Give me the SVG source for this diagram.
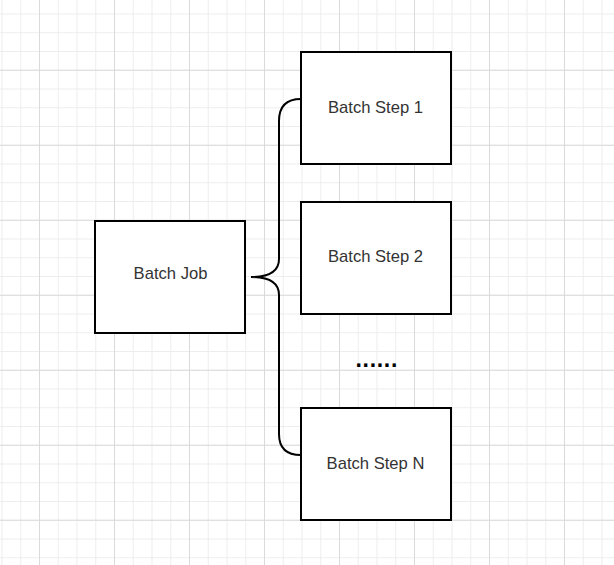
<svg xmlns="http://www.w3.org/2000/svg" width="614" height="565" viewBox="0 0 614 565">
  <defs>
    <pattern id="minor" patternUnits="userSpaceOnUse" x="-7.375" y="4.625" width="18.75" height="18.75">
      <path d="M9.375,0 V18.75 M0,9.375 H18.75" stroke="#ededed" stroke-width="1" fill="none"/>
    </pattern>
    <pattern id="major" patternUnits="userSpaceOnUse" x="2" y="32.75" width="75" height="75">
      <path d="M37.5,0 V75 M0,37.5 H75" stroke="#dadada" stroke-width="1" fill="none"/>
    </pattern>
  </defs>
  <style>
    .box { fill: #ffffff; stroke: #000000; stroke-width: 2; }
    .label { font-family: "Liberation Sans", Arial, sans-serif; font-size: 16.6px; fill: #333333; text-anchor: middle; }
    .conn { fill: none; stroke: #000000; stroke-width: 2; }
  </style>
  <rect x="0" y="0" width="614" height="565" fill="#ffffff"/>
  <rect x="0" y="0" width="614" height="565" fill="url(#minor)"/>
  <rect x="0" y="0" width="614" height="565" fill="url(#major)"/>

  <g id="connectors">
    <path class="conn" d="M301,99 C286,99 279,106 279,121 L279,259 C279,270 272,277 251,277 C272,277 279,284 279,295 L279,434 C279,448 286,455 301,455"/>
  </g>

  <g id="batch-job">
    <rect class="box" x="95" y="221" width="150" height="112"/>
    <text class="label" x="170.5" y="279">Batch Job</text>
  </g>
  <g id="batch-step-1">
    <rect class="box" x="301" y="52" width="150" height="112"/>
    <text class="label" x="375.5" y="112.5">Batch Step 1</text>
  </g>
  <g id="batch-step-2">
    <rect class="box" x="301" y="202" width="150" height="112"/>
    <text class="label" x="375.5" y="262">Batch Step 2</text>
  </g>
  <g id="ellipsis">
    <text x="355.5" y="366.5" font-family="'Liberation Sans', Arial, sans-serif" font-size="23" font-weight="bold" letter-spacing="0.7" fill="#000000">......</text>
  </g>
  <g id="batch-step-n">
    <rect class="box" x="301" y="408" width="150" height="112"/>
    <text class="label" x="375.5" y="468.5">Batch Step N</text>
  </g>
</svg>
